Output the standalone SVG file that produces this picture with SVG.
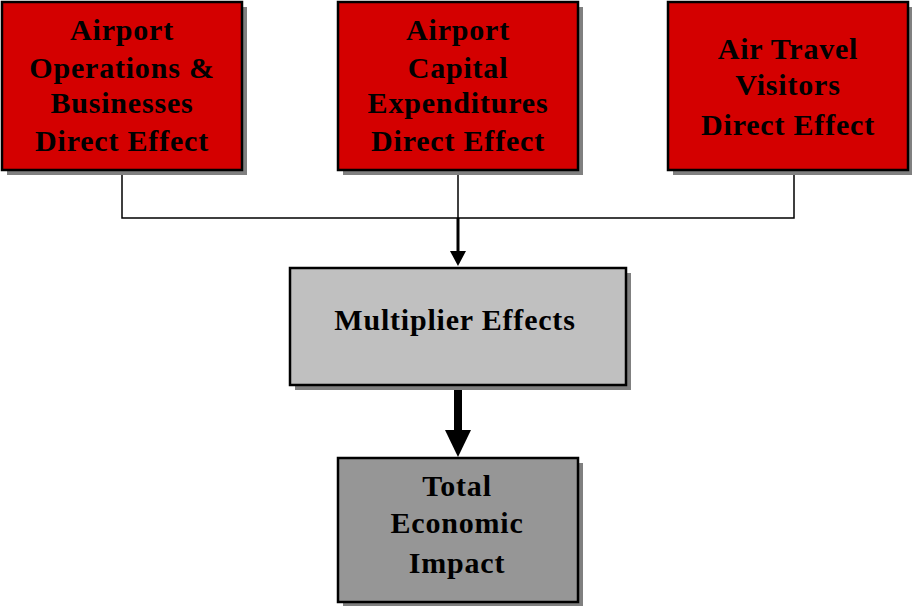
<svg xmlns="http://www.w3.org/2000/svg" width="912" height="606" viewBox="0 0 912 606">
<style>
.shadow{fill:#808080;}
.box{stroke:#000;stroke-width:2.5;}
.red{fill:#d40000;}
.lgray{fill:#c0c0c0;}
.dgray{fill:#969696;}
text{font-family:"Liberation Serif","Times New Roman",serif;font-weight:bold;font-size:30px;letter-spacing:0.8px;fill:#000;text-anchor:middle;}
.thin{stroke:#000;stroke-width:1.5;fill:none;}
</style>
<rect width="912" height="606" fill="#fff"/>
<g id="connectors">
<polyline class="thin" points="122,170 122,218 794,218 794,170"/>
<line class="thin" x1="458" y1="170" x2="458" y2="218"/>
<line x1="458" y1="218" x2="458" y2="252" stroke="#000" stroke-width="3"/>
<polygon points="450,251 466,251 458,266" fill="#000"/>
<line x1="458" y1="386" x2="458" y2="432" stroke="#000" stroke-width="8"/>
<polygon points="445,430 471,430 458,457" fill="#000"/>
</g>
<g id="node1">
<rect class="shadow" x="7" y="7" width="240" height="168"/>
<rect class="box red" x="2" y="2" width="240" height="168"/>
<text x="122" y="40">Airport</text>
<text x="122" y="78">Operations &amp;</text>
<text x="122" y="113">Businesses</text>
<text x="122" y="151">Direct Effect</text>
</g>
<g id="node2">
<rect class="shadow" x="343" y="7" width="240" height="168"/>
<rect class="box red" x="338" y="2" width="240" height="168"/>
<text x="458" y="40">Airport</text>
<text x="458" y="78">Capital</text>
<text x="458" y="113">Expenditures</text>
<text x="458" y="151">Direct Effect</text>
</g>
<g id="node3">
<rect class="shadow" x="673" y="7" width="240" height="168"/>
<rect class="box red" x="668" y="2" width="240" height="168"/>
<text x="788" y="59">Air Travel</text>
<text x="788" y="95">Visitors</text>
<text x="788" y="135">Direct Effect</text>
</g>
<g id="node4">
<rect class="shadow" x="295" y="273" width="336" height="117"/>
<rect class="box lgray" x="290" y="268" width="336" height="117"/>
<text x="455" y="330">Multiplier Effects</text>
</g>
<g id="node5">
<rect class="shadow" x="343" y="463" width="240" height="144"/>
<rect class="box dgray" x="338" y="458" width="240" height="144"/>
<text x="457" y="496">Total</text>
<text x="457" y="533">Economic</text>
<text x="457" y="573">Impact</text>
</g>
</svg>
